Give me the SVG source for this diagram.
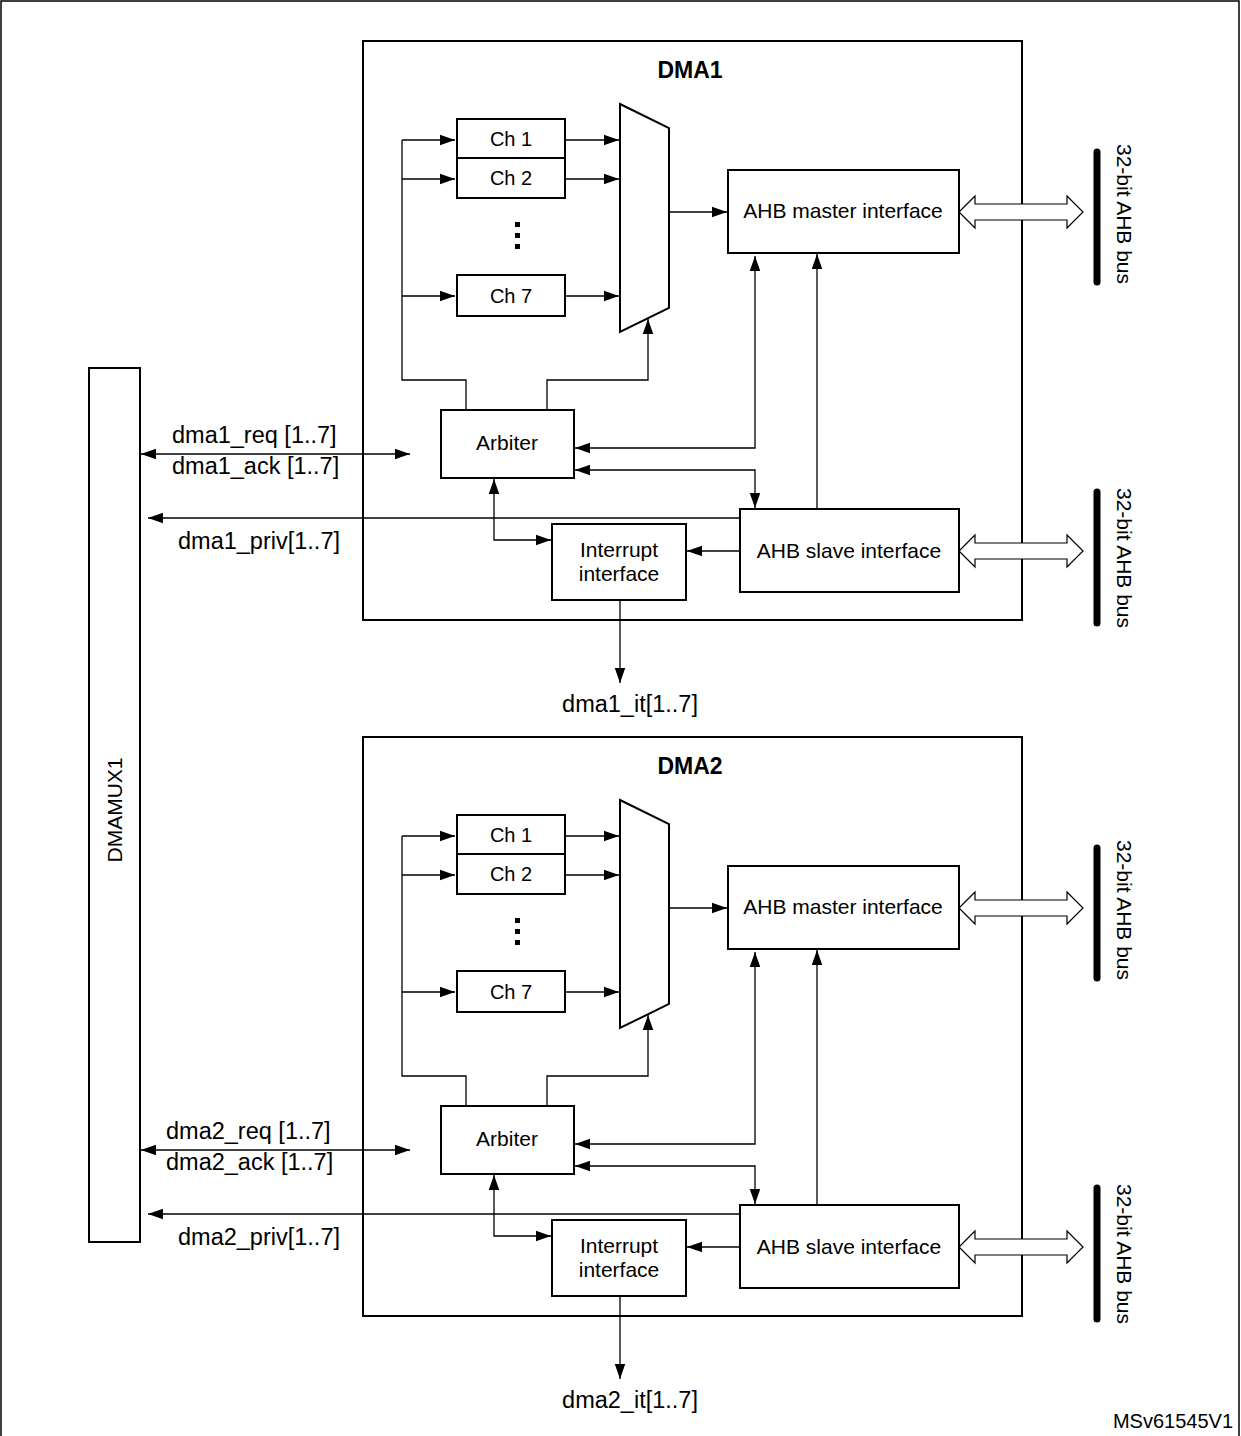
<svg xmlns="http://www.w3.org/2000/svg" width="1241" height="1436" viewBox="0 0 1241 1436">
<style>
text{font-family:"Liberation Sans",Arial,sans-serif;font-size:20px;fill:#000}
.n{font-size:21px}
.s{font-size:23.5px}
.b{fill:#fff;stroke:#000;stroke-width:2}
.l{fill:none;stroke:#000;stroke-width:1.3}
.h{fill:#fff;stroke:#000;stroke-width:1.2}
</style>
<defs>
<marker id="a" viewBox="0 0 10 10" refX="10" refY="5" markerWidth="15" markerHeight="15" markerUnits="userSpaceOnUse" orient="auto-start-reverse"><path d="M0,1.5L10,5L0,8.5z"/></marker>
</defs>
<rect x="1" y="1" width="1238" height="1445" fill="#fff" stroke="#000" stroke-width="1.5"/>
<g id="dmamux1"><rect class="b" x="89" y="368" width="51" height="874"/><text class="n" transform="translate(122,810) rotate(-90)" text-anchor="middle">DMAMUX1</text></g>

<g id="dma1">
<rect class="b" x="363" y="41" width="659" height="579"/>
<text x="690" y="78" text-anchor="middle" font-weight="bold" style="font-size:23px">DMA1</text>
<g id="ch1"><rect class="b" x="457" y="119" width="108" height="39"/><text x="511" y="146" text-anchor="middle">Ch 1</text></g>
<g id="ch2"><rect class="b" x="457" y="158" width="108" height="40"/><text x="511" y="185" text-anchor="middle">Ch 2</text></g>
<g id="dots1"><rect x="515" y="222" width="5" height="5"/><rect x="515" y="233" width="5" height="5"/><rect x="515" y="244" width="5" height="5"/></g>
<g id="ch7"><rect class="b" x="457" y="275" width="108" height="41"/><text x="511" y="303" text-anchor="middle">Ch 7</text></g>
<polygon id="mux1" class="b" points="620,104 669,128 669,308 620,332"/>
<g id="master1"><rect class="b" x="728" y="170" width="231" height="83"/><text class="n" x="843" y="218" text-anchor="middle">AHB master interface</text></g>
<g id="arbiter1"><rect class="b" x="441" y="410" width="133" height="68"/><text class="n" x="507" y="450" text-anchor="middle">Arbiter</text></g>
<g id="slave1"><rect class="b" x="740" y="509" width="219" height="83"/><text class="n" x="849" y="558" text-anchor="middle">AHB slave interface</text></g>
<g id="int1"><rect class="b" x="552" y="524" width="134" height="76"/><text class="n" x="619" y="557" text-anchor="middle">Interrupt</text><text class="n" x="619" y="581" text-anchor="middle">interface</text></g>
</g>
<g id="conn1">
<path class="l" d="M466,410V380H402V140"/>
<path class="l" d="M402,140H455" marker-end="url(#a)"/>
<path class="l" d="M402,179H455" marker-end="url(#a)"/>
<path class="l" d="M402,296H455" marker-end="url(#a)"/>
<path class="l" d="M565,140H619" marker-end="url(#a)"/>
<path class="l" d="M565,179H619" marker-end="url(#a)"/>
<path class="l" d="M565,296H619" marker-end="url(#a)"/>
<path class="l" d="M669,212H727" marker-end="url(#a)"/>
<path class="l" d="M547,410V380H648V319" marker-end="url(#a)"/>
<path class="l" d="M575,448H755V256" marker-start="url(#a)" marker-end="url(#a)"/>
<path class="l" d="M575,470H755V508" marker-start="url(#a)" marker-end="url(#a)"/>
<path class="l" d="M817,509V254" marker-end="url(#a)"/>
<path class="l" d="M740,518H148" marker-end="url(#a)"/>
<path class="l" d="M494,479V540H551" marker-start="url(#a)" marker-end="url(#a)"/>
<path class="l" d="M740,551H687" marker-end="url(#a)"/>
<path class="l" d="M620,600V683" marker-end="url(#a)"/>
<path class="l" d="M141,454H410" marker-start="url(#a)" marker-end="url(#a)"/>
<polygon class="h" points="959,212 975,196 975,204 1067,204 1067,196 1083,212 1067,228 1067,220 975,220 975,228"/>
<polygon class="h" points="959,551 975,535 975,543 1067,543 1067,535 1083,551 1067,567 1067,559 975,559 975,567"/>
</g>
<text class="s" x="172" y="443">dma1_req [1..7]</text>
<text class="s" x="172" y="474">dma1_ack [1..7]</text>
<text class="s" x="178" y="549">dma1_priv[1..7]</text>
<text class="s" x="630" y="712" text-anchor="middle">dma1_it[1..7]</text>
<line x1="1097" y1="152" x2="1097" y2="282" stroke="#000" stroke-width="7" stroke-linecap="round"/>
<line x1="1097" y1="492" x2="1097" y2="623" stroke="#000" stroke-width="7" stroke-linecap="round"/>
<text class="n" transform="translate(1117,214) rotate(90)" text-anchor="middle">32-bit AHB bus</text>
<text class="n" transform="translate(1117,558) rotate(90)" text-anchor="middle">32-bit AHB bus</text>

<g transform="translate(0,696)">
<g id="dma2">
<rect class="b" x="363" y="41" width="659" height="579"/>
<text x="690" y="78" text-anchor="middle" font-weight="bold" style="font-size:23px">DMA2</text>
<g id="ch1b"><rect class="b" x="457" y="119" width="108" height="39"/><text x="511" y="146" text-anchor="middle">Ch 1</text></g>
<g id="ch2b"><rect class="b" x="457" y="158" width="108" height="40"/><text x="511" y="185" text-anchor="middle">Ch 2</text></g>
<g id="dots2"><rect x="515" y="222" width="5" height="5"/><rect x="515" y="233" width="5" height="5"/><rect x="515" y="244" width="5" height="5"/></g>
<g id="ch7b"><rect class="b" x="457" y="275" width="108" height="41"/><text x="511" y="303" text-anchor="middle">Ch 7</text></g>
<polygon id="mux2" class="b" points="620,104 669,128 669,308 620,332"/>
<g id="master2"><rect class="b" x="728" y="170" width="231" height="83"/><text class="n" x="843" y="218" text-anchor="middle">AHB master interface</text></g>
<g id="arbiter2"><rect class="b" x="441" y="410" width="133" height="68"/><text class="n" x="507" y="450" text-anchor="middle">Arbiter</text></g>
<g id="slave2"><rect class="b" x="740" y="509" width="219" height="83"/><text class="n" x="849" y="558" text-anchor="middle">AHB slave interface</text></g>
<g id="int2"><rect class="b" x="552" y="524" width="134" height="76"/><text class="n" x="619" y="557" text-anchor="middle">Interrupt</text><text class="n" x="619" y="581" text-anchor="middle">interface</text></g>
</g>
<g id="conn2">
<path class="l" d="M466,410V380H402V140"/>
<path class="l" d="M402,140H455" marker-end="url(#a)"/>
<path class="l" d="M402,179H455" marker-end="url(#a)"/>
<path class="l" d="M402,296H455" marker-end="url(#a)"/>
<path class="l" d="M565,140H619" marker-end="url(#a)"/>
<path class="l" d="M565,179H619" marker-end="url(#a)"/>
<path class="l" d="M565,296H619" marker-end="url(#a)"/>
<path class="l" d="M669,212H727" marker-end="url(#a)"/>
<path class="l" d="M547,410V380H648V319" marker-end="url(#a)"/>
<path class="l" d="M575,448H755V256" marker-start="url(#a)" marker-end="url(#a)"/>
<path class="l" d="M575,470H755V508" marker-start="url(#a)" marker-end="url(#a)"/>
<path class="l" d="M817,509V254" marker-end="url(#a)"/>
<path class="l" d="M740,518H148" marker-end="url(#a)"/>
<path class="l" d="M494,479V540H551" marker-start="url(#a)" marker-end="url(#a)"/>
<path class="l" d="M740,551H687" marker-end="url(#a)"/>
<path class="l" d="M620,600V683" marker-end="url(#a)"/>
<path class="l" d="M141,454H410" marker-start="url(#a)" marker-end="url(#a)"/>
<polygon class="h" points="959,212 975,196 975,204 1067,204 1067,196 1083,212 1067,228 1067,220 975,220 975,228"/>
<polygon class="h" points="959,551 975,535 975,543 1067,543 1067,535 1083,551 1067,567 1067,559 975,559 975,567"/>
</g>
<text class="s" x="166" y="443">dma2_req [1..7]</text>
<text class="s" x="166" y="474">dma2_ack [1..7]</text>
<text class="s" x="178" y="549">dma2_priv[1..7]</text>
<text class="s" x="630" y="712" text-anchor="middle">dma2_it[1..7]</text>
<line x1="1097" y1="152" x2="1097" y2="282" stroke="#000" stroke-width="7" stroke-linecap="round"/>
<line x1="1097" y1="492" x2="1097" y2="623" stroke="#000" stroke-width="7" stroke-linecap="round"/>
<text class="n" transform="translate(1117,214) rotate(90)" text-anchor="middle">32-bit AHB bus</text>
<text class="n" transform="translate(1117,558) rotate(90)" text-anchor="middle">32-bit AHB bus</text>
</g>
<text x="1233" y="1428" text-anchor="end" font-size="14">MSv61545V1</text>
</svg>
